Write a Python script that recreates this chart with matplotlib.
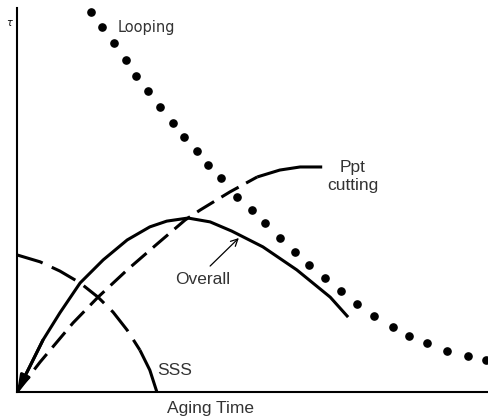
import matplotlib.pyplot as plt
import numpy as np

# Curves in arbitrary units: aging time 0..10, strength 0..10.
looping_t = [1.57, 1.81, 2.06, 2.31, 2.53, 2.78, 3.04, 3.31, 3.55, 3.82,
             4.06, 4.33, 4.67, 4.99, 5.27, 5.58, 5.90, 6.20, 6.54, 6.88,
             7.22, 7.58, 7.98, 8.32, 8.71, 9.13, 9.58, 9.96]
looping_tau = [9.90, 9.51, 9.09, 8.65, 8.23, 7.84, 7.42, 7.01, 6.64, 6.28,
               5.91, 5.57, 5.08, 4.74, 4.40, 4.01, 3.65, 3.31, 2.97, 2.63,
               2.29, 1.98, 1.69, 1.46, 1.28, 1.07, 0.94, 0.83]

overall_t = [0, 0.28, 0.55, 0.91, 1.34, 1.83, 2.34, 2.82, 3.18, 3.63,
             4.10, 4.56, 5.22, 5.94, 6.65, 7.03]
overall_tau = [0, 0.68, 1.35, 2.06, 2.84, 3.44, 3.96, 4.30, 4.45, 4.53,
               4.43, 4.19, 3.78, 3.18, 2.47, 1.95]

ppt_t = [0, 0.49, 1.19, 1.72, 2.34, 2.97, 3.57, 3.89, 4.52, 5.10, 5.58, 6.01, 6.48]
ppt_tau = [0, 0.78, 1.80, 2.47, 3.18, 3.85, 4.48, 4.74, 5.21, 5.60, 5.78, 5.86, 5.86]

sss_t = [0, 0.49, 0.91, 1.34, 1.72, 2.04, 2.34, 2.61, 2.82, 2.97]
sss_tau = [3.57, 3.39, 3.15, 2.84, 2.47, 2.08, 1.61, 1.09, 0.57, 0]

fig = plt.figure(figsize=(4.88, 4.17), dpi=100)
ax = fig.add_axes([17/488, 25/417, 471/488, 384/417])
ax.set_xlim(0, 10)
ax.set_ylim(0, 10)

for s in ["top", "right"]:
    ax.spines[s].set_visible(False)
for s in ["left", "bottom"]:
    ax.spines[s].set_linewidth(1.5)
ax.set_xticks([])
ax.set_yticks([])

lw = 2.2

# Overall strength curve, with arrowhead into the origin
ax.plot(overall_t, overall_tau, color="black", lw=lw, solid_capstyle="butt",
        solid_joinstyle="round")
ax.annotate("", xy=(overall_t[0], overall_tau[0]),
            xytext=(overall_t[2], overall_tau[2]),
            arrowprops=dict(arrowstyle="-|>,head_length=0.8,head_width=0.25",
                            color="black", lw=lw, mutation_scale=12,
                            shrinkA=0, shrinkB=0))

# Precipitate cutting: dashed, running into a solid tail
ax.plot(ppt_t[:-3], ppt_tau[:-3], color="black", lw=lw, dashes=(6.5, 2.8),
        dash_capstyle="butt", dash_joinstyle="round")
ax.plot(ppt_t[-4:], ppt_tau[-4:], color="black", lw=lw, solid_capstyle="butt",
        solid_joinstyle="round")

# Solid solution strengthening
ax.plot(sss_t[:-2], sss_tau[:-2], color="black", lw=lw, dashes=(8.8, 3.3),
        dash_capstyle="butt", dash_joinstyle="round")
ax.plot(sss_t[-3:], sss_tau[-3:], color="black", lw=lw, solid_capstyle="butt",
        solid_joinstyle="round")

# Orowan looping
ax.plot(looping_t, looping_tau, "o", color="black", ms=5.2, clip_on=False)

txt = dict(color="#333333", family="Liberation Sans", fontsize=12.5)
ax.text(2.14, 9.37, "Looping", ha="left", va="baseline",
        color="#333333", family="DejaVu Sans", fontsize=10.5)
ax.text(6.84, 5.73, "Ppt", ha="left", va="baseline", **txt)
ax.text(6.58, 5.26, "cutting", ha="left", va="baseline", **txt)
ax.text(2.97, 0.44, "SSS", ha="left", va="baseline", **txt)
ax.text(3.36, 2.80, "Overall", ha="left", va="baseline", **txt)
ax.annotate("", xy=(4.71, 4.01), xytext=(4.10, 3.28),
            arrowprops=dict(arrowstyle="->,head_length=0.5,head_width=0.25",
                            color="black", lw=0.9, shrinkA=0, shrinkB=0))

ax.text(3.18, -0.55, "Aging Time", ha="left", va="baseline", clip_on=False, **txt)
ax.text(-0.16, 9.62, "τ", ha="center", va="center", fontsize=7,
        style="italic", color="black", clip_on=False)

fig.savefig("out.png", dpi=100)
